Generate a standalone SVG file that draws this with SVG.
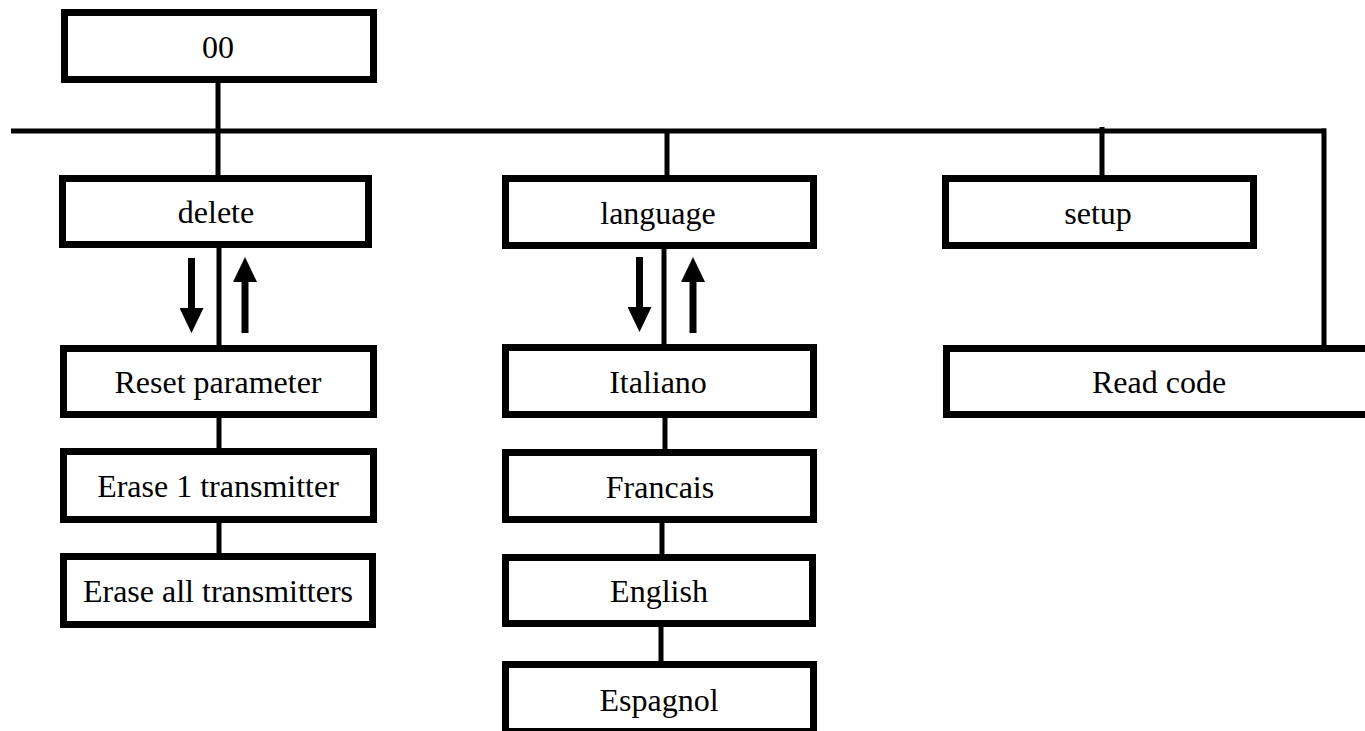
<svg xmlns="http://www.w3.org/2000/svg" width="1365" height="731" viewBox="0 0 1365 731">
<style>
.box{fill:#fff;stroke:#000;stroke-width:7}
.lbl{font-family:'Liberation Serif','Tinos','Times New Roman','Nimbus Roman','DejaVu Serif',serif;font-size:32px;fill:#000;text-anchor:middle}
.con{stroke:#000;stroke-width:5;fill:none}
.arr{stroke:#000;stroke-width:7;fill:none;marker-end:url(#head)}
</style>
<defs>
<marker id="head" markerUnits="userSpaceOnUse" markerWidth="26" markerHeight="24" refX="0" refY="12" orient="auto">
<path d="M0,0 L25,12 L0,24 z" fill="#000"/>
</marker>
</defs>
<rect width="1365" height="731" fill="#fff"/>
<g id="connectors">
<line class="con" x1="11" y1="131" x2="1326" y2="131"/>
<line class="con" x1="218" y1="83" x2="218" y2="175"/>
<line class="con" x1="667" y1="131" x2="667" y2="175"/>
<line class="con" x1="1102" y1="127" x2="1102" y2="175"/>
<line class="con" x1="1324" y1="128.5" x2="1324" y2="345"/>
<line class="con" x1="219" y1="248" x2="219" y2="345"/>
<line class="con" x1="219" y1="418" x2="219" y2="448"/>
<line class="con" x1="219" y1="523" x2="219" y2="553"/>
<line class="con" x1="664" y1="249" x2="664" y2="344"/>
<line class="con" x1="665" y1="418" x2="665" y2="449"/>
<line class="con" x1="662" y1="523" x2="662" y2="554"/>
<line class="con" x1="661" y1="627" x2="661" y2="661"/>
<line class="arr" x1="191.5" y1="258" x2="191.5" y2="308"/>
<line class="arr" x1="245" y1="333" x2="245" y2="282"/>
<line class="arr" x1="639.5" y1="257" x2="639.5" y2="307"/>
<line class="arr" x1="693" y1="333" x2="693" y2="282"/>
</g>
<g id="n00"><rect class="box" x="64.5" y="12.5" width="309" height="67"/><text class="lbl" x="218" y="57.5">00</text></g>
<g id="ndelete"><rect class="box" x="62.5" y="178.5" width="306" height="66"/><text class="lbl" x="216" y="223">delete</text></g>
<g id="nreset"><rect class="box" x="63.5" y="348.5" width="310" height="66"/><text class="lbl" x="218" y="393">Reset parameter</text></g>
<g id="nerase1"><rect class="box" x="63.5" y="451.5" width="310" height="68"/><text class="lbl" x="218" y="497">Erase 1 transmitter</text></g>
<g id="neraseall"><rect class="box" x="63.5" y="556.5" width="309" height="68"/><text class="lbl" x="218" y="602">Erase all transmitters</text></g>
<g id="nlanguage"><rect class="box" x="505.5" y="178.5" width="308" height="67"/><text class="lbl" x="658" y="223.5">language</text></g>
<g id="nitaliano"><rect class="box" x="505.5" y="347.5" width="308" height="67"/><text class="lbl" x="658" y="392.5">Italiano</text></g>
<g id="nfrancais"><rect class="box" x="505.5" y="452.5" width="308" height="67"/><text class="lbl" x="660" y="497.5">Francais</text></g>
<g id="nenglish"><rect class="box" x="505.5" y="557.5" width="307" height="66"/><text class="lbl" x="659" y="602">English</text></g>
<g id="nespagnol"><rect class="box" x="505.5" y="664.5" width="308" height="67"/><text class="lbl" x="659" y="711">Espagnol</text></g>
<g id="nsetup"><rect class="box" x="945.5" y="178.5" width="308" height="67"/><text class="lbl" x="1098" y="223.5">setup</text></g>
<g id="nreadcode"><rect class="box" x="946.5" y="348.5" width="440" height="66"/><text class="lbl" x="1159" y="393">Read code</text></g>
</svg>
